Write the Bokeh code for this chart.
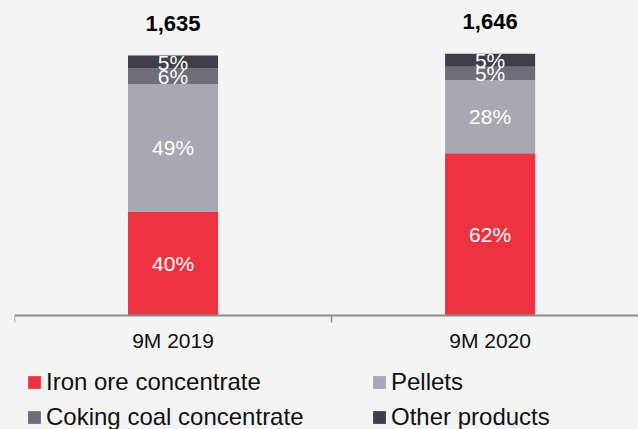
import numpy as np
from bokeh.plotting import figure
from bokeh.models import Range1d, Legend, LegendItem, ColumnDataSource, Span
from bokeh.core.properties import value
from bokeh.embed import file_html
from bokeh.resources import INLINE

categories = ["9M 2019", "9M 2020"]
totals = [1635, 1646]
series = ["Iron ore concentrate", "Pellets", "Coking coal concentrate", "Other products"]
iron_pct = [40, 62]
pellets_pct = [49, 28]
coking_pct = [6, 5]
other_pct = [5, 5]
colors = ["#EE3340", "#A9A8B2", "#6E6D78", "#3F3E49"]

FONT = "Liberation Sans"
BG = "#f4f4f4"
AXIS_COLOR = "#8c8c8c"

n = len(categories)
x = [i + 0.5 for i in range(n)]
bounds = list(range(n + 1))
pcts = [iron_pct, pellets_pct, coking_pct, other_pct]
keys = ["iron", "pellets", "coking", "other"]
data = {"x": x, "cat": categories, "zero": [0] * n, "total": totals,
        "total_label": [f"{t:,}" for t in totals]}
for k, pc in zip(keys, pcts):
    data[k] = [t * v / 100 for t, v in zip(totals, pc)]
src = ColumnDataSource(data)

# percentage label positions (segment centres)
lx, ly, lt = [], [], []
base = [0.0] * n
for k, pc in zip(keys, pcts):
    for i in range(n):
        v = data[k][i]
        lx.append(x[i])
        ly.append(base[i] + v / 2)
        lt.append(f"{pc[i]}%")
        base[i] += v
lsrc = ColumnDataSource(dict(x=lx, y=ly, t=lt))

p = figure(width=638, height=429, output_backend="svg", toolbar_location=None,
           x_range=Range1d(0, 1.968), y_range=Range1d(-717, 1981),
           x_axis_location=None, y_axis_location=None,
           min_border_left=14, min_border_right=0, min_border_top=0, min_border_bottom=0,
           background_fill_color=BG, border_fill_color=BG, outline_line_color=None)
p.grid.visible = False

renderers = p.vbar_stack(keys, x="x", width=0.284, color=colors, source=src, line_color=None)

# category axis: baseline, boundary ticks, labels
p.add_layout(Span(location=0, dimension="width", line_color=AXIS_COLOR, line_width=2))
p.ray(x=bounds, y=[0] * len(bounds), length=7, length_units="screen", angle=-np.pi / 2,
      line_color=AXIS_COLOR, line_width=1.5)
p.text(x="x", y="zero", text="cat", source=src, y_offset=25,
       text_align="center", text_baseline="middle", text_color="#111111",
       text_font=value(FONT), text_font_size="21px")

p.text(x="x", y="y", text="t", source=lsrc, text_align="center", text_baseline="middle",
       text_color="white", text_font=value(FONT), text_font_size="21px")

p.text(x="x", y="total", text="total_label", source=src, y_offset=-32,
       text_align="center", text_baseline="middle", text_color="black",
       text_font=value(FONT), text_font_size="22px", text_font_style="bold")

items = [LegendItem(label=s, renderers=[r]) for s, r in zip(series, renderers)]
legend = Legend(items=items, ncols=2, orientation="horizontal", location=(12, -2),
                margin=0, padding=0, spacing=7,
                glyph_width=16, glyph_height=16, label_standoff=4,
                label_width=318, label_height=26,
                label_text_font=FONT, label_text_font_size="24px", label_text_color="#111111",
                background_fill_alpha=0, border_line_color=None)
p.add_layout(legend, "center")

html = file_html(p, INLINE)
html = html.replace("</head>", "<style>html,body{background:#f4f4f4;}</style></head>", 1)
open("out.html", "w").write(html)
